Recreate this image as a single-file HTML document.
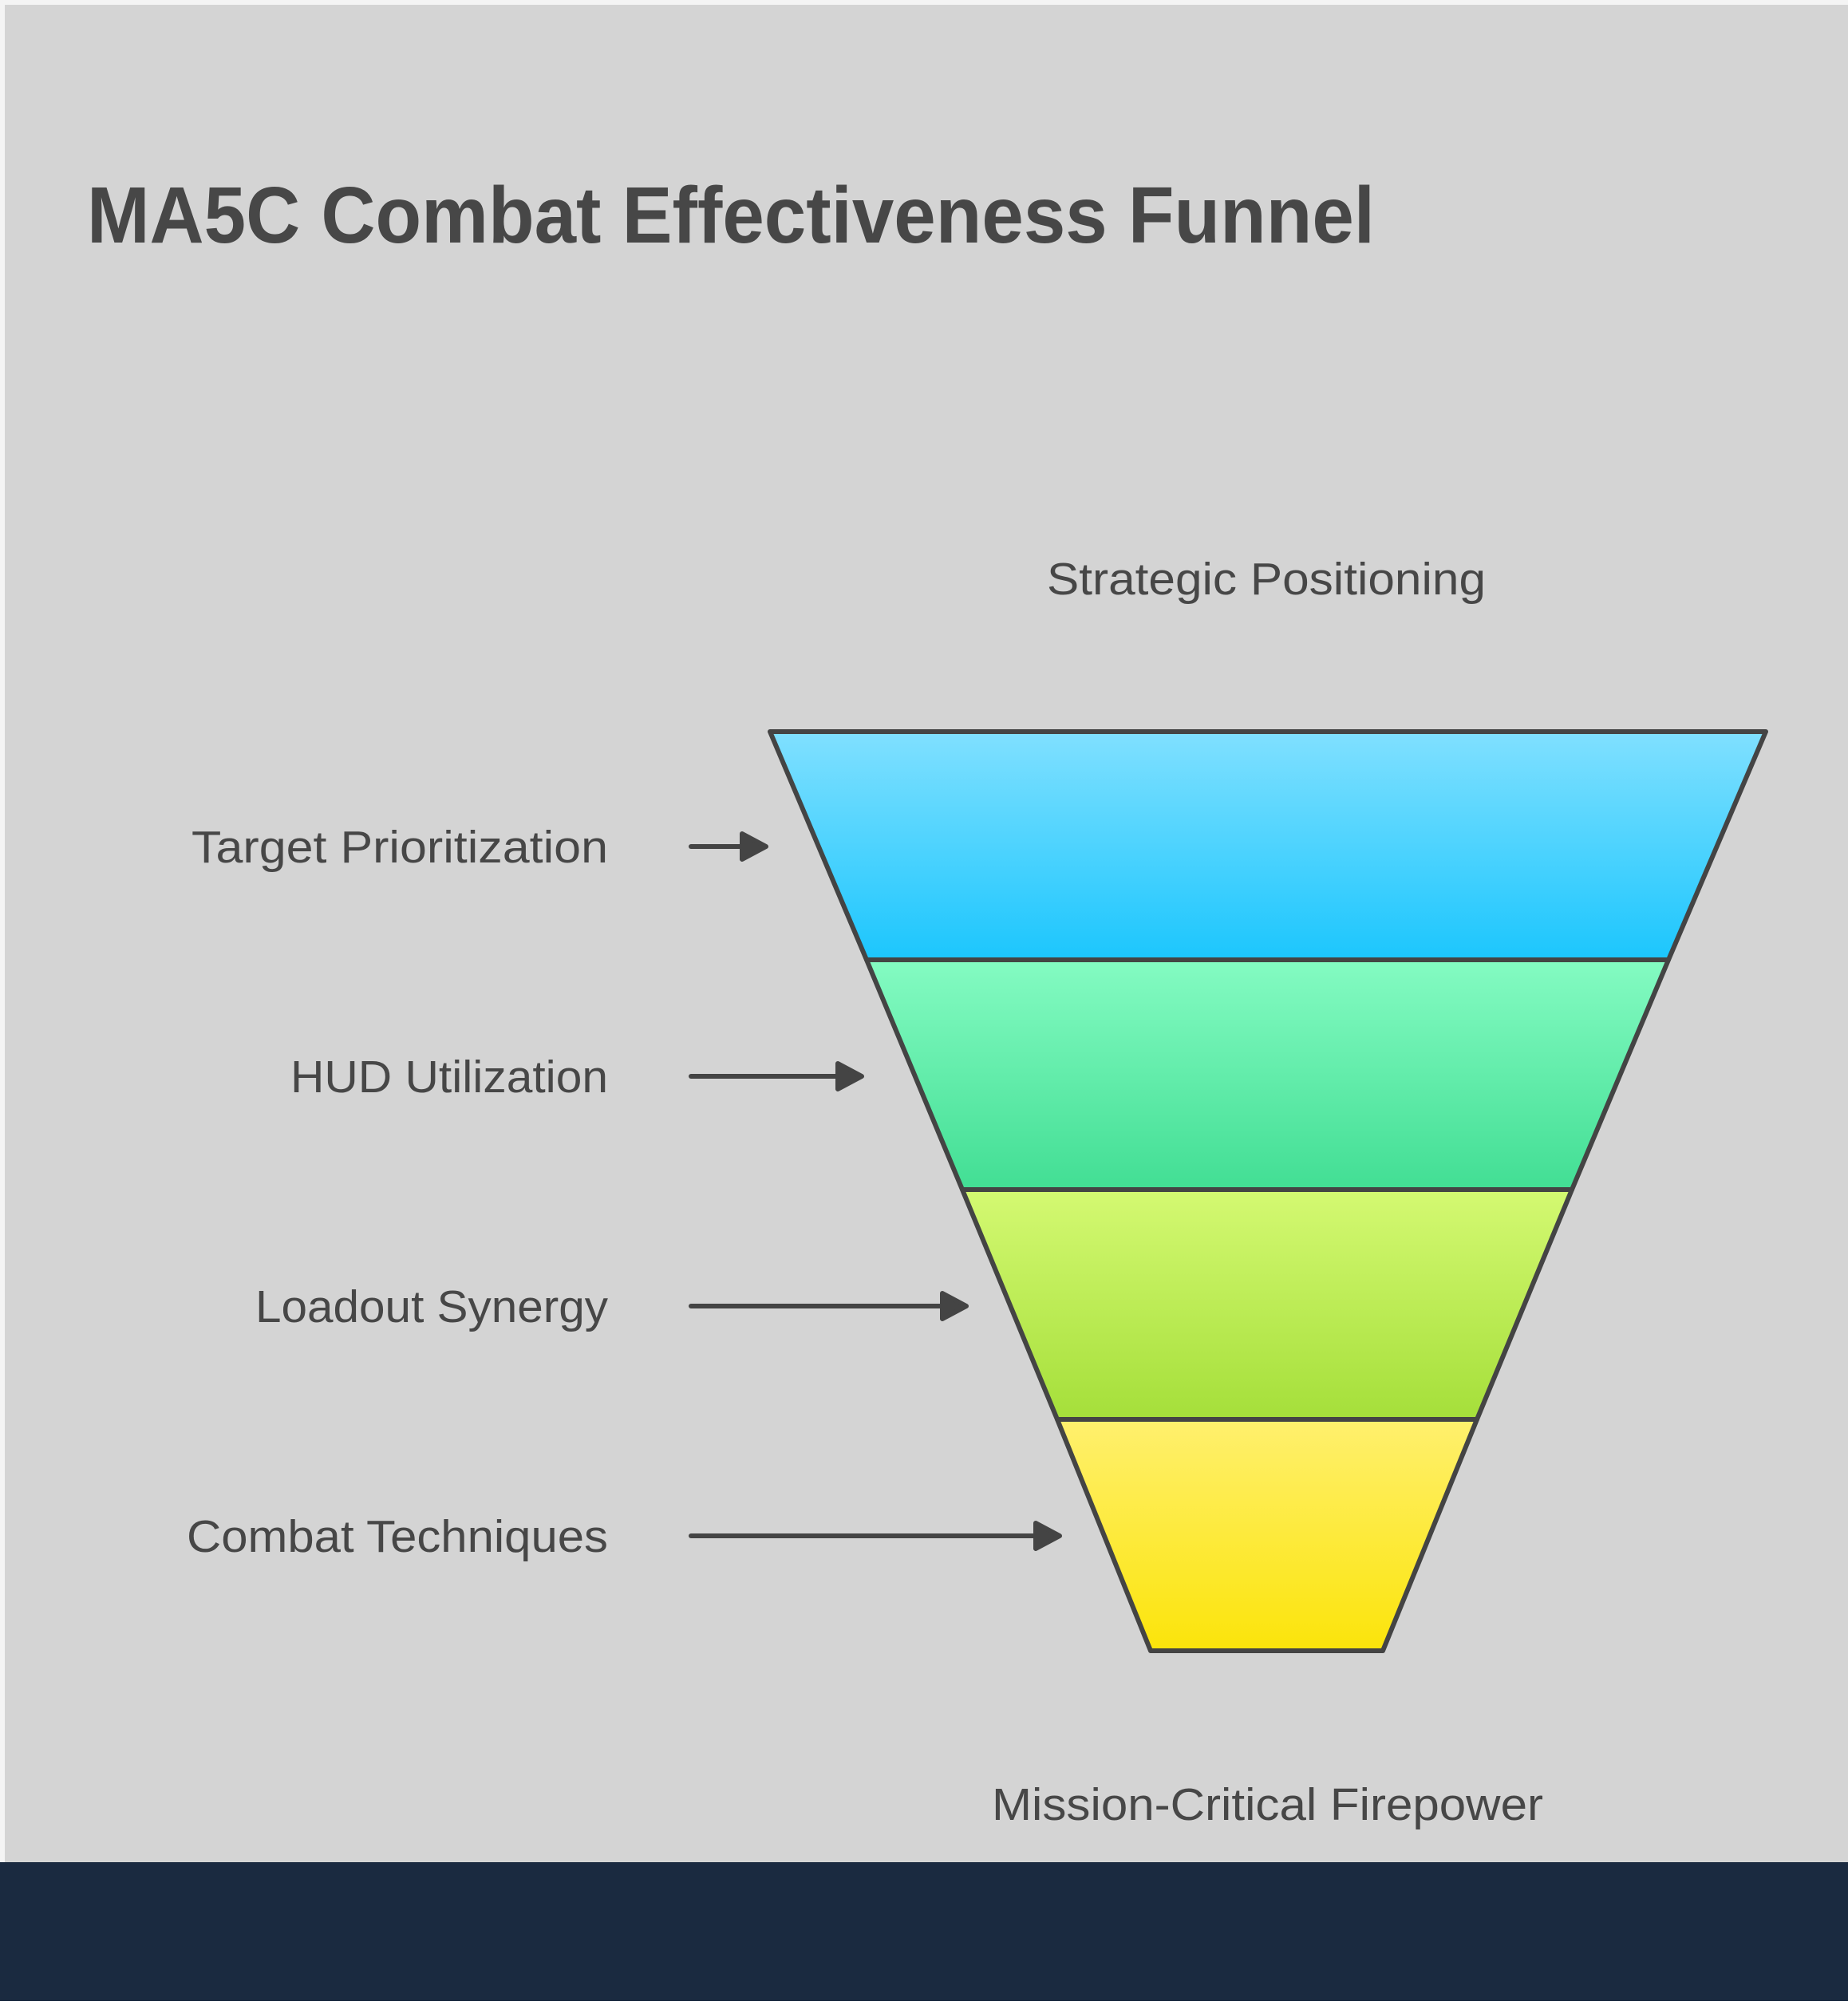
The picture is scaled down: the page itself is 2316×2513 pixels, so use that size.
<!DOCTYPE html>
<html><head><meta charset="utf-8"><style>
html,body{margin:0;padding:0;}
body{width:2316px;height:2508px;overflow:hidden;background:#fff;}
</style></head><body>
<svg width="2316" height="2508" viewBox="0 0 2316 2508" xmlns="http://www.w3.org/2000/svg">
<defs>
<linearGradient id="g1" x1="0" y1="0" x2="0" y2="1"><stop offset="0" stop-color="#80e0ff"/><stop offset="1" stop-color="#1cc6fd"/></linearGradient>
<linearGradient id="g2" x1="0" y1="0" x2="0" y2="1"><stop offset="0" stop-color="#84fbc2"/><stop offset="1" stop-color="#42de94"/></linearGradient>
<linearGradient id="g3" x1="0" y1="0" x2="0" y2="1"><stop offset="0" stop-color="#d4f972"/><stop offset="1" stop-color="#a5df3a"/></linearGradient>
<linearGradient id="g4" x1="0" y1="0" x2="0" y2="1"><stop offset="0" stop-color="#fff06e"/><stop offset="1" stop-color="#fbe40a"/></linearGradient>
</defs>
<rect x="0" y="0" width="2316" height="2508" fill="#f4f4f4"/>
<rect x="6" y="6" width="2310" height="2330" fill="#d4d4d4"/>
<rect x="0" y="2334" width="2316" height="174" fill="#1a2a40"/>
<text x="109" y="304" font-family="Liberation Sans, sans-serif" font-weight="bold" font-size="100" fill="#474747" textLength="1614" lengthAdjust="spacingAndGlyphs">MA5C Combat Effectiveness Funnel</text>
<g stroke="#444" stroke-width="6" stroke-linejoin="round">
<polygon points="965,917 2213,917 2091,1203 1086,1203" fill="url(#g1)"/>
<polygon points="1086,1203 2091,1203 1970,1491 1206,1491" fill="url(#g2)"/>
<polygon points="1206,1491 1970,1491 1851,1779 1325,1779" fill="url(#g3)"/>
<polygon points="1325,1779 1851,1779 1733,2069 1442,2069" fill="url(#g4)"/>
</g>
<g font-family="Liberation Sans, sans-serif" font-size="57" fill="#474747" lengthAdjust="spacingAndGlyphs">
<text x="1312" y="745" textLength="550" lengthAdjust="spacingAndGlyphs">Strategic Positioning</text>
<text x="1243" y="2281" textLength="691" lengthAdjust="spacingAndGlyphs">Mission-Critical Firepower</text>
<text x="240" y="1081" textLength="522" lengthAdjust="spacingAndGlyphs">Target Prioritization</text>
<text x="364" y="1369" textLength="398" lengthAdjust="spacingAndGlyphs">HUD Utilization</text>
<text x="320" y="1657" textLength="442" lengthAdjust="spacingAndGlyphs">Loadout Synergy</text>
<text x="234" y="1945" textLength="528" lengthAdjust="spacingAndGlyphs">Combat Techniques</text>
</g>
<g stroke="#444" stroke-width="6" stroke-linecap="round" fill="#444">
<line x1="866" y1="1061" x2="935" y2="1061"/><polygon points="930,1045 960,1061 930,1077" stroke-linejoin="round"/>
<line x1="866" y1="1349" x2="1055" y2="1349"/><polygon points="1050,1333 1080,1349 1050,1365" stroke-linejoin="round"/>
<line x1="866" y1="1637" x2="1186" y2="1637"/><polygon points="1181,1621 1211,1637 1181,1653" stroke-linejoin="round"/>
<line x1="866" y1="1925" x2="1303" y2="1925"/><polygon points="1298,1909 1328,1925 1298,1941" stroke-linejoin="round"/>
</g>
</svg>
</body></html>
